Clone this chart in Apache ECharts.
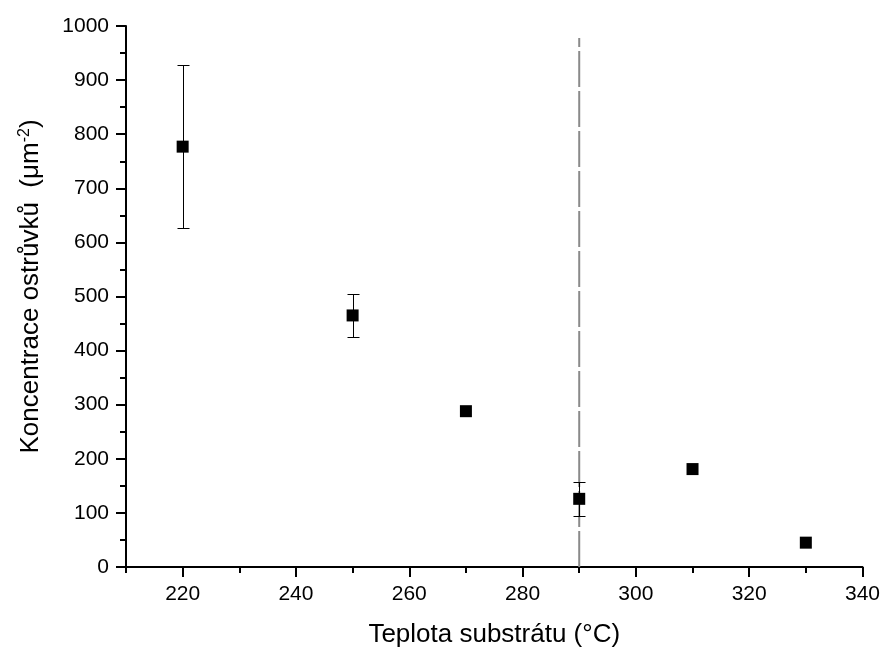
<!DOCTYPE html>
<html>
<head>
<meta charset="utf-8">
<script src="https://cdn.jsdelivr.net/npm/echarts@6/dist/echarts.min.js"></script>
<style>
  html, body { margin: 0; padding: 0; background: #fff; }
  #chart { width: 883px; height: 655px; }
</style>
</head>
<body>
<div id="chart"></div>
<script>
// Island concentration vs. substrate temperature
const temperatures = [220, 250, 270, 290, 310, 330];
const concentration = [777, 465, 288, 126, 181, 45];
const concentrationError = [150, 39, 0, 31, 0, 0];

const xMajorTicks = [220, 240, 260, 280, 300, 320, 340];
const xMinorTicks = [210, 230, 250, 270, 290, 310, 330];

const thresholdTemperature = 290;
const thresholdSpan = [0, 978];

const FONT = '"Liberation Sans", Arial, sans-serif';

const points = temperatures.map((t, i) => [t, concentration[i]]);
const errorBars = temperatures
  .map((t, i) => [t, concentration[i], concentrationError[i]])
  .filter(d => d[2] > 0);
const thresholdLine = thresholdSpan.map(v => [thresholdTemperature, v]);

const axisLineStyle = { color: '#000', width: 2 };

const chart = echarts.init(document.getElementById('chart'), null, { renderer: 'canvas' });

chart.setOption({
  animation: false,
  backgroundColor: '#fff',
  textStyle: { fontFamily: FONT },
  grid: { left: 126, right: 18, top: 26, bottom: 88, containLabel: false },
  xAxis: [
    {
      // minor ticks (odd tens)
      type: 'value', min: 210, max: 340,
      axisLine: { show: true, onZero: false, lineStyle: axisLineStyle },
      axisTick: { show: true, inside: false, length: 6, customValues: xMinorTicks, lineStyle: axisLineStyle },
      axisLabel: { show: false },
      splitLine: { show: false }
    },
    {
      // major ticks with labels
      type: 'value', min: 210, max: 340, position: 'bottom', offset: 0,
      axisLine: { show: false, onZero: false },
      axisTick: { show: true, inside: false, length: 10, customValues: xMajorTicks, lineStyle: axisLineStyle },
      axisLabel: { show: true, customValues: xMajorTicks, color: '#000', fontSize: 21, fontFamily: FONT, margin: 17 },
      splitLine: { show: false },
      name: 'Teplota substrátu (°C)',
      nameLocation: 'middle',
      nameGap: 55,
      nameTextStyle: { color: '#000', fontSize: 26, fontFamily: FONT }
    }
  ],
  yAxis: {
    type: 'value', min: 0, max: 1000, interval: 100,
    axisLine: { show: true, onZero: false, lineStyle: axisLineStyle },
    axisTick: { show: true, inside: false, length: 10, lineStyle: axisLineStyle },
    minorTick: { show: true, splitNumber: 2, length: 6, lineStyle: axisLineStyle },
    axisLabel: { color: '#000', fontSize: 21, fontFamily: FONT, margin: 17, formatter: v => String(v) },
    splitLine: { show: false },
    minorSplitLine: { show: false },
    name: 'Koncentrace ostrůvků  (μm{sup|-2})',
    nameLocation: 'middle',
    nameRotate: 90,
    nameGap: 81,
    nameTextStyle: {
      color: '#000', fontSize: 26, fontFamily: FONT,
      padding: [0, 0, 0, 20],
      rich: {
        sup: { fontSize: 16, fontFamily: FONT, color: '#000', padding: [0, 0, 12, 0] }
      }
    }
  },
  series: [
    {
      name: 'threshold',
      type: 'line',
      xAxisIndex: 0,
      data: thresholdLine,
      symbol: 'none',
      silent: true,
      z: 1,
      lineStyle: { color: '#8a8a8a', width: 2, type: [36, 4] }
    },
    {
      name: 'error',
      type: 'custom',
      xAxisIndex: 0,
      data: errorBars,
      z: 3,
      renderItem(params, api) {
        const x = api.value(0), y = api.value(1), e = api.value(2);
        const top = api.coord([x, y + e]);
        const bot = api.coord([x, y - e]);
        const half = 6;
        const px = Math.round(top[0]) + 0.5;
        const ty = Math.round(top[1]) + 0.5;
        const by = Math.round(bot[1]) + 0.5;
        const style = { stroke: '#000', lineWidth: 1 };
        return {
          type: 'group',
          children: [
            { type: 'line', shape: { x1: px, y1: ty, x2: px, y2: by }, style },
            { type: 'line', shape: { x1: px - half, y1: ty, x2: px + half, y2: ty }, style },
            { type: 'line', shape: { x1: px - half, y1: by, x2: px + half, y2: by }, style }
          ]
        };
      }
    },
    {
      name: 'concentration',
      type: 'scatter',
      xAxisIndex: 0,
      data: points,
      symbol: 'rect',
      symbolSize: 12,
      z: 4,
      itemStyle: { color: '#000', opacity: 1 }
    }
  ]
});
</script>
</body>
</html>
